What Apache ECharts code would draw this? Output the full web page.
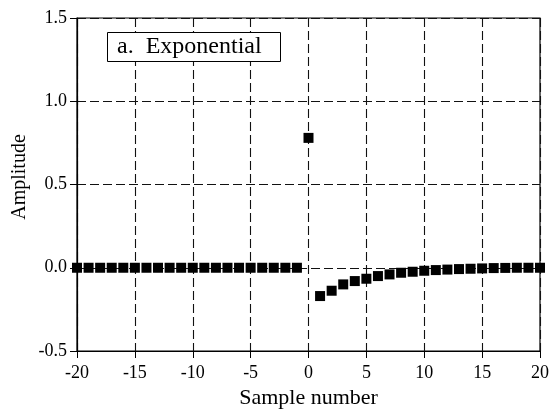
<!DOCTYPE html>
<html>
<head>
<meta charset="utf-8">
<script src="https://cdn.jsdelivr.net/npm/echarts@6/dist/echarts.min.js"></script>
<style>
html,body{margin:0;padding:0;background:#fff;}
#chart{width:552px;height:414px;}
</style>
</head>
<body>
<div id="chart"></div>
<script>
var sampleNumbers = [-20,-19,-18,-17,-16,-15,-14,-13,-12,-11,-10,-9,-8,-7,-6,-5,-4,-3,-2,-1,0,1,2,3,4,5,6,7,8,9,10,11,12,13,14,15,16,17,18,19,20];
var amplitudes = [0,0,0,0,0,0,0,0,0,0,0,0,0,0,0,0,0,0,0,0,
  0.78,-0.17,-0.138,-0.10,-0.08,-0.066,-0.05,-0.04,-0.03,-0.024,-0.018,
  -0.014,-0.011,-0.008,-0.006,-0.004,-0.002,-0.001,0,0,0];
var xTicks = [-20,-15,-10,-5,0,5,10,15,20];
var yTicks = [-0.5,0.0,0.5,1.0,1.5];
var titleText = 'a.  Exponential';
var xName = 'Sample number';
var yName = 'Amplitude';

var points = sampleNumbers.map(function(x,i){return [x, amplitudes[i]];});
var serif = '"Liberation Serif", "DejaVu Serif", serif';
var chart = echarts.init(document.getElementById('chart'));
chart.setOption({
  animation:false,
  backgroundColor:'#fff',
  title:{
    text:titleText, left:107, top:32,
    borderColor:'#000', borderWidth:1, backgroundColor:'#fff',
    padding:[3,19,3,10],
    textStyle:{fontFamily:serif, fontSize:24, lineHeight:24, fontWeight:'normal', color:'#000'}
  },
  graphic:[{
    type:'text', x:20, y:177, rotation:Math.PI/2,
    style:{text:yName, fontFamily:serif, fontSize:20, fill:'#000', align:'center', verticalAlign:'middle'}
  }],
  grid:{left:77, right:9, top:18, bottom:62, show:true, borderColor:'#000', borderWidth:1.2},
  xAxis:{
    type:'value', min:xTicks[0], max:xTicks[xTicks.length-1], interval:5,
    name:xName, nameLocation:'middle', nameGap:36,
    nameTextStyle:{fontFamily:serif, fontSize:22, color:'#000'},
    axisLine:{onZero:false, lineStyle:{color:'#000', width:1.2}},
    axisTick:{show:true, length:7, lineStyle:{color:'#000'}},
    axisLabel:{fontFamily:serif, fontSize:18, color:'#000', margin:13},
    splitLine:{show:true, lineStyle:{color:'#111', type:[9,4], width:1.1}}
  },
  yAxis:{
    type:'value', min:yTicks[0], max:yTicks[yTicks.length-1], interval:0.5,
    axisLine:{show:true, onZero:false, lineStyle:{color:'#000', width:1.2}},
    axisTick:{show:true, length:7, lineStyle:{color:'#000'}},
    axisLabel:{fontFamily:serif, fontSize:18, color:'#000', margin:10,
      formatter:function(v){return v.toFixed(1);}},
    splitLine:{show:true, lineStyle:{color:'#111', type:[9,4], width:1.1}}
  },
  series:[{
    type:'scatter', data:points, symbol:'rect', symbolSize:10,
    itemStyle:{color:'#000', opacity:1}, z:5
  }]
});
</script>
</body>
</html>
